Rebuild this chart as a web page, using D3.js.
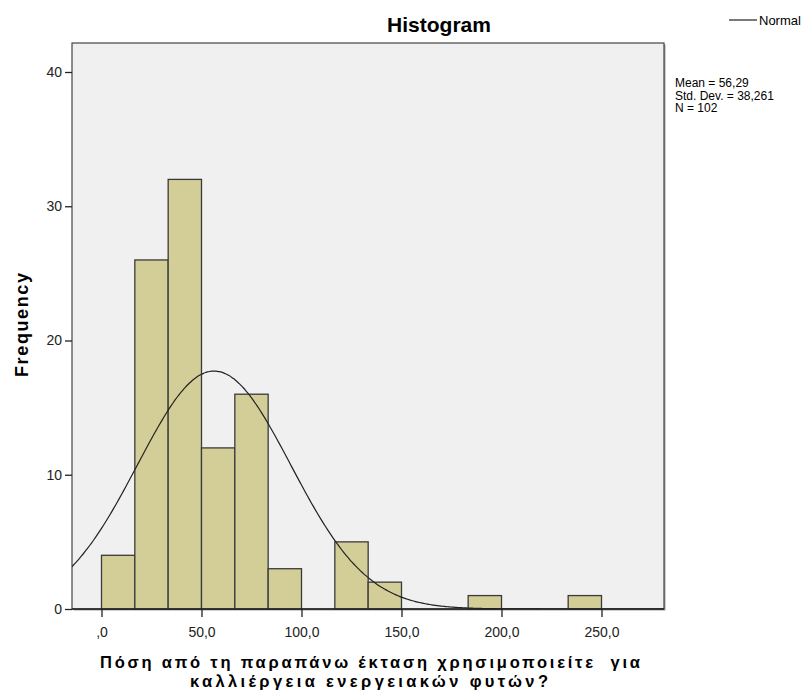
<!DOCTYPE html>
<html>
<head>
<meta charset="utf-8">
<script src="https://cdn.jsdelivr.net/npm/d3@7"></script>
<style>
body { margin: 0; background: #fff; }
text { font-family: "Liberation Sans", Arial, sans-serif; }
</style>
</head>
<body>
<div class="chart"></div>
<script>
// histogram bins (edges in units of the variable) and counts
var binStart = [0, 16.667, 33.333, 50, 66.667, 83.333, 100, 116.667, 133.333, 150, 166.667, 183.333, 200, 216.667, 233.333];
var binEnd = [16.667, 33.333, 50, 66.667, 83.333, 100, 116.667, 133.333, 150, 166.667, 183.333, 200, 216.667, 233.333, 250];
var counts = [4, 26, 32, 12, 16, 3, 0, 5, 2, 0, 0, 1, 0, 0, 1];
var xTicks = [0, 50, 100, 150, 200, 250];
var xTickLabels = [",0", "50,0", "100,0", "150,0", "200,0", "250,0"];
var yTicks = [0, 10, 20, 30, 40];
var mean = 56.29, sd = 38.261, n = 102, binWidth = 50 / 3;
var statsLines = ["Mean = 56,29", "Std. Dev. = 38,261", "N = 102"];

var svgWidth = 807;
var svgHeight = 696;

var frame = { left: 72, top: 43, right: 664, bottom: 609 };

var svg = d3.select(".chart")
    .append("svg")
    .attr("width", svgWidth)
    .attr("height", svgHeight);

var x = d3.scaleLinear()
    .domain([-14.75, 281.25])
    .range([frame.left, frame.right]);

var y = d3.scaleLinear()
    .domain([0, 40])
    .range([frame.bottom, 72]);

// shadow + plot background
svg.append("rect")
    .attr("x", frame.left + 1.5)
    .attr("y", frame.top + 1.5)
    .attr("width", frame.right - frame.left)
    .attr("height", frame.bottom - frame.top)
    .attr("fill", "#a0a0a0");

svg.append("rect")
    .attr("x", frame.left)
    .attr("y", frame.top)
    .attr("width", frame.right - frame.left)
    .attr("height", frame.bottom - frame.top)
    .attr("fill", "#f0f0f0")
    .attr("stroke", "#444")
    .attr("stroke-width", 1.2);

svg.append("clipPath")
    .attr("id", "plotclip")
    .append("rect")
    .attr("x", frame.left)
    .attr("y", frame.top)
    .attr("width", frame.right - frame.left)
    .attr("height", frame.bottom - frame.top);

var bins = counts.map(function(c, i) {
    return { x0: binStart[i], x1: binEnd[i], count: c };
}).filter(d => d.count > 0);

svg.append("g").selectAll("rect")
    .data(bins)
    .enter()
    .append("rect")
    .attr("x", d => x(d.x0))
    .attr("y", d => y(d.count))
    .attr("width", d => x(d.x1) - x(d.x0))
    .attr("height", d => y(0) - y(d.count))
    .attr("fill", "#d3ce97")
    .attr("stroke", "#3a3a3a")
    .attr("stroke-width", 1.3);

// normal curve scaled to counts
var curvePts = d3.range(-15, 282, 1).map(function(v) {
    var z = (v - mean) / sd;
    return [v, n * binWidth * Math.exp(-0.5 * z * z) / (sd * Math.sqrt(2 * Math.PI))];
});

svg.append("path")
    .datum(curvePts)
    .attr("clip-path", "url(#plotclip)")
    .attr("fill", "none")
    .attr("stroke", "#222")
    .attr("stroke-width", 1.2)
    .attr("d", d3.line().x(d => x(d[0])).y(d => y(d[1])).curve(d3.curveBasis));

// baseline axis line
svg.append("line")
    .attr("x1", frame.left).attr("x2", frame.right)
    .attr("y1", y(0)).attr("y2", y(0))
    .attr("stroke", "#222").attr("stroke-width", 1.3);

var bottomAxis = d3.axisBottom(x)
    .tickValues(xTicks)
    .tickFormat((d, i) => xTickLabels[i])
    .tickSize(8)
    .tickPadding(10);

var xg = svg.append("g")
    .attr("transform", `translate(0, ${frame.bottom})`)
    .call(bottomAxis);
xg.select(".domain").remove();
xg.selectAll("line").attr("stroke", "#222").attr("stroke-width", 1.3);
xg.selectAll("text").attr("font-size", "14px").attr("fill", "#222")
    .style("font-family", "'Liberation Sans', Arial, sans-serif");

var leftAxis = d3.axisLeft(y)
    .tickValues(yTicks)
    .tickSize(7)
    .tickPadding(3);

var yg = svg.append("g")
    .attr("transform", `translate(${frame.left}, 0)`)
    .call(leftAxis);
yg.select(".domain").remove();
yg.selectAll("line").attr("stroke", "#222").attr("stroke-width", 1.3);
yg.selectAll("text").attr("font-size", "14px").attr("fill", "#222")
    .style("font-family", "'Liberation Sans', Arial, sans-serif");

// title
svg.append("text")
    .attr("x", 439)
    .attr("y", 32)
    .attr("text-anchor", "middle")
    .attr("font-size", "21px")
    .attr("font-weight", "bold")
    .text("Histogram");

// legend
svg.append("line")
    .attr("x1", 729).attr("x2", 757)
    .attr("y1", 20).attr("y2", 20)
    .attr("stroke", "#222").attr("stroke-width", 1.2);
svg.append("text")
    .attr("x", 759)
    .attr("y", 25)
    .attr("font-size", "13px")
    .text("Normal");

svg.append("g").selectAll("text")
    .data(statsLines)
    .enter()
    .append("text")
    .attr("x", 675)
    .attr("y", (d, i) => 87 + i * 12.5)
    .attr("font-size", "12px")
    .text(d => d);

// axis titles
svg.append("text")
    .attr("transform", "translate(28, 325) rotate(-90)")
    .attr("text-anchor", "middle")
    .attr("font-size", "18px")
    .attr("font-weight", "bold")
    .attr("textLength", 104)
    .attr("lengthAdjust", "spacing")
    .text("Frequency");

var xTitle = ["Πόση από τη παραπάνω έκταση χρησιμοποιείτε  για", "καλλιέργεια ενεργειακών φυτών?"];
var xTitleStart = [100, 190];
var xTitleWidth = [540, 358];
svg.append("g").selectAll("text")
    .data(xTitle)
    .enter()
    .append("text")
    .attr("x", (d, i) => xTitleStart[i])
    .attr("y", (d, i) => 668 + i * 19)
    .attr("font-size", "16.5px")
    .attr("font-weight", "bold")
    .attr("textLength", (d, i) => xTitleWidth[i])
    .attr("lengthAdjust", "spacing")
    .style("white-space", "pre")
    .text(d => d);
</script>
</body>
</html>
